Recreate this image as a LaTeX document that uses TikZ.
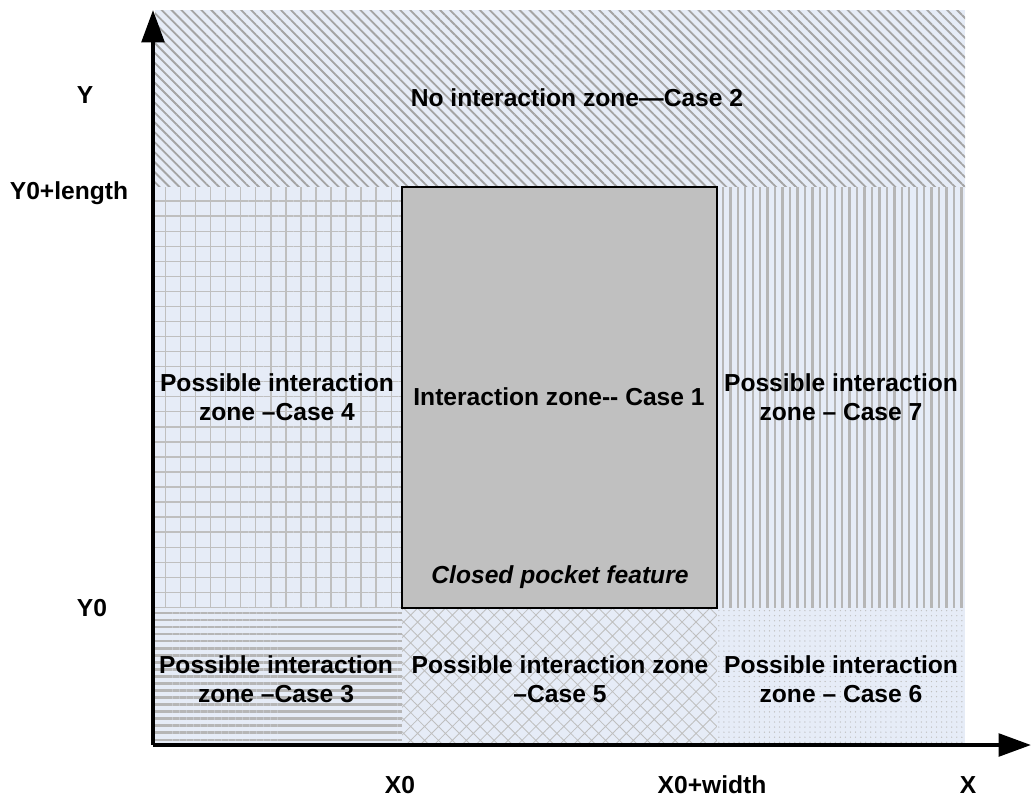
\documentclass[tikz,border=0pt]{standalone}
\usepackage{fontspec}
\setmainfont{Liberation Sans}
\usetikzlibrary{patterns.meta,arrows.meta}
\definecolor{zonebg}{HTML}{E6ECF7}
\definecolor{hatchgray}{HTML}{A4A4A4}
\definecolor{pocketgray}{HTML}{C0C0C0}
\tikzset{
  zone/.style={preaction={fill=zonebg},pattern color=hatchgray},
  lbl/.style={font=\bfseries\fontsize{17.5}{21}\selectfont,align=center,inner sep=0pt},
  axis/.style={line width=2.8pt,-{Triangle[length=23pt,width=16pt]}}
}
\begin{document}
\begin{tikzpicture}[x=0.025cm,y=-0.025cm]
    \useasboundingbox (0,0) rectangle (1031,803);
    \fill[zone,pattern={Lines[angle=-45,distance=5pt,line width=1.3pt]}] (155,10) rectangle (965,187);
    \fill[zone,pattern color=hatchgray!70,pattern={Hatch[angle=0,distance=10.7pt,line width=1pt]}] (155,187) rectangle (402,608);
    \fill[zone,pattern color=hatchgray!80,pattern={Lines[angle=90,distance=5.3pt,line width=1.7pt]}] (717,187) rectangle (965,608);
    \fill[zone,pattern color=hatchgray!80,pattern={Lines[angle=0,distance=5pt,line width=1.7pt]}] (155,608) rectangle (402,745);
    \fill[zone,pattern color=hatchgray!70,pattern={Hatch[angle=45,distance=7pt,line width=0.6pt]}] (402,608) rectangle (717,745);
    \fill[zone,pattern color=hatchgray!70,pattern={Dots[distance=3.6pt,radius=0.5pt]}] (717,608) rectangle (965,745);
    \draw[fill=pocketgray,line width=0.8pt] (402,187) rectangle (717,608);
    \draw[axis] (153,745) -- (153,10);
    \draw[axis] (153,745) -- (1031,745);
    \node[lbl] (ylab) at (85,95) {Y};
    \node[lbl] (ylen) at (69,193) {Y0+length};
    \node[lbl] (yzero) at (92,608) {Y0};
    \node[lbl] (xzero) at (400,785) {X0};
    \node[lbl] (xwid) at (712,785) {X0+width};
    \node[lbl] (xlab) at (968,785) {X};
    \node[lbl] (case2) at (577,98) {No interaction zone---Case 2};
    \node[lbl] (case4) at (277,397) {Possible interaction\\zone --Case 4};
    \node[lbl] (case1) at (559,397) {Interaction zone-{}- Case 1};
    \node[lbl] (case7) at (841,397) {Possible interaction\\zone -- Case 7};
    \node[lbl,font=\bfseries\itshape\fontsize{17.5}{21}\selectfont] (pocket) at (560,577) {Closed pocket feature};
    \node[lbl] (case3) at (276,679) {Possible interaction\\zone --Case 3};
    \node[lbl] (case5) at (560,679) {Possible interaction zone\\--Case 5};
    \node[lbl] (case6) at (841,679) {Possible interaction\\zone -- Case 6};
\end{tikzpicture}
\end{document}
